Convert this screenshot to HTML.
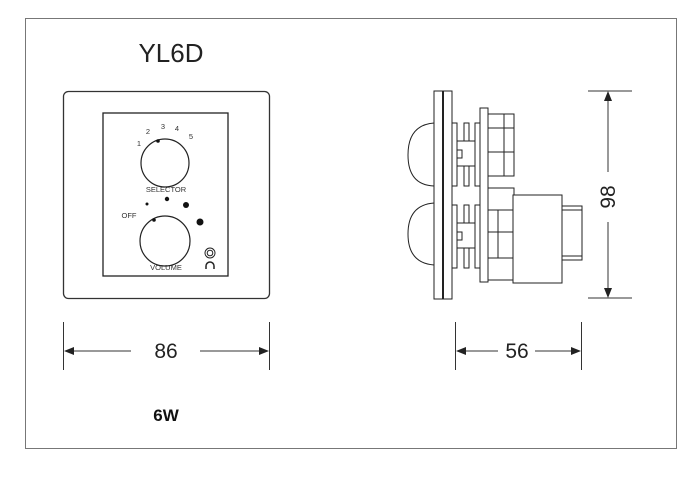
<!DOCTYPE html>
<html><head><style>body{margin:0;background:#fff}svg{display:block}</style></head><body>
<svg width="700" height="481" viewBox="0 0 700 481" xmlns="http://www.w3.org/2000/svg" font-family="Liberation Sans, Arial, sans-serif">
<rect x="0" y="0" width="700" height="481" fill="#fff"/>
<rect x="25.5" y="18.5" width="651" height="430" fill="none" stroke="#777" stroke-width="1"/>
<text x="171" y="62" font-size="26" text-anchor="middle" fill="#222">YL6D</text>
<!-- front panel -->
<rect x="63.5" y="91.5" width="206" height="207" rx="5" fill="none" stroke="#333" stroke-width="1.3"/>
<rect x="103" y="113" width="125" height="163" fill="none" stroke="#222" stroke-width="1.3"/>
<g font-size="7.5" fill="#333" text-anchor="middle">
<text x="139" y="146">1</text><text x="148" y="134">2</text><text x="163" y="129">3</text><text x="177" y="131">4</text><text x="191" y="139">5</text>
<text x="166" y="192">SELECTOR</text><text x="166" y="270">VOLUME</text><text x="129" y="218">OFF</text>
</g>
<circle cx="165" cy="163" r="24" fill="none" stroke="#222" stroke-width="1.2"/>
<circle cx="158" cy="141" r="1.8" fill="#111"/>
<circle cx="165" cy="241" r="25" fill="none" stroke="#222" stroke-width="1.2"/>
<circle cx="154" cy="220" r="1.8" fill="#111"/>
<circle cx="147" cy="204" r="1.5" fill="#111"/><circle cx="167" cy="199" r="2.2" fill="#111"/><circle cx="186" cy="205" r="3" fill="#111"/><circle cx="200" cy="222" r="3.5" fill="#111"/>
<circle cx="210" cy="253" r="5" fill="none" stroke="#222" stroke-width="1"/><circle cx="210" cy="253" r="2.8" fill="none" stroke="#222" stroke-width="1"/>
<path d="M206 269 v-3 a4 4 0 0 1 8 0 v3" fill="none" stroke="#222" stroke-width="1.5"/>
<!-- side view -->
<g fill="none" stroke="#222" stroke-width="1">
<rect x="434" y="91" width="18" height="208"/>
<line x1="443" y1="91" x2="443" y2="299" stroke-width="2"/>
<path d="M434 123 Q408 125 408 155 Q408 185 434 186"/>
<path d="M434 203 Q408 205 408 234 Q408 263 434 265"/>
<rect x="452" y="123" width="5" height="63"/><rect x="464" y="123" width="5" height="63"/><rect x="475" y="123" width="5" height="63"/>
<rect x="452" y="205" width="5" height="63"/><rect x="464" y="205" width="5" height="63"/><rect x="475" y="205" width="5" height="63"/>
<rect x="457" y="141" width="18" height="25" fill="#fff"/><rect x="457" y="150" width="5" height="8"/>
<rect x="457" y="223" width="18" height="25" fill="#fff"/><rect x="457" y="232" width="5" height="8"/>
<rect x="480" y="108" width="8" height="174"/>
<rect x="488" y="114" width="26" height="62"/><line x1="504" y1="114" x2="504" y2="176"/><line x1="488" y1="128" x2="514" y2="128"/><line x1="488" y1="152" x2="514" y2="152"/>
<rect x="488" y="188" width="26" height="92"/><line x1="488" y1="210" x2="514" y2="210"/><line x1="488" y1="232" x2="514" y2="232"/><line x1="488" y1="258" x2="514" y2="258"/><line x1="498" y1="210" x2="498" y2="258"/>
<rect x="513" y="195" width="49" height="88" fill="#fff"/>
<rect x="562" y="206" width="20" height="54"/><line x1="562" y1="210" x2="582" y2="210"/><line x1="562" y1="256" x2="582" y2="256"/>
</g>
<g stroke="#333" stroke-width="1">
<line x1="588" y1="91" x2="632" y2="91"/><line x1="588" y1="298" x2="632" y2="298"/>
<line x1="608" y1="96" x2="608" y2="172"/><line x1="608" y1="222" x2="608" y2="293"/>
<line x1="63.5" y1="322" x2="63.5" y2="370"/><line x1="269.5" y1="322" x2="269.5" y2="370"/>
<line x1="66" y1="351" x2="131" y2="351"/><line x1="200" y1="351" x2="266" y2="351"/>
<line x1="455.5" y1="322" x2="455.5" y2="370"/><line x1="581.5" y1="322" x2="581.5" y2="370"/>
<line x1="458" y1="351" x2="498" y2="351"/><line x1="535" y1="351" x2="578" y2="351"/>
</g>
<g fill="#222">
<path d="M608 91 l-4 10 h8z"/><path d="M608 298 l-4 -10 h8z"/>
<path d="M64 351 l10 -4 v8z"/><path d="M269 351 l-10 -4 v8z"/>
<path d="M456 351 l10 -4 v8z"/><path d="M581 351 l-10 -4 v8z"/>
</g>
<text transform="translate(615,197) rotate(-90)" font-size="21" text-anchor="middle" fill="#222">98</text>
<text x="166" y="358" font-size="21" text-anchor="middle" fill="#222">86</text>
<text x="517" y="358" font-size="21" text-anchor="middle" fill="#222">56</text>
<text x="166" y="421" font-size="17" font-weight="bold" text-anchor="middle" fill="#111">6W</text>
</svg>
</body></html>
